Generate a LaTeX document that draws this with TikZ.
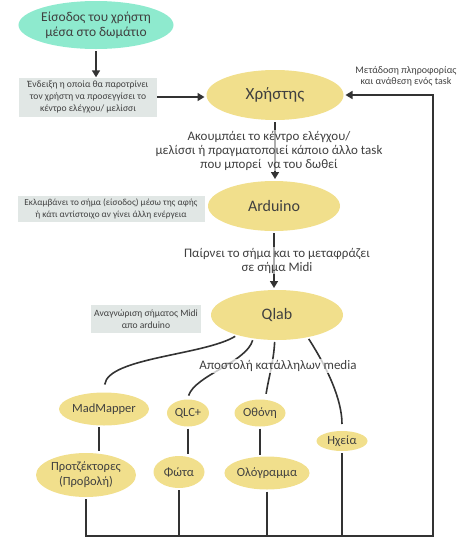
\documentclass[tikz,border=0pt]{standalone}
\usepackage{fontspec}
\setmainfont{Carlito}
\usetikzlibrary{shapes.geometric, arrows.meta}

\definecolor{mint}{RGB}{142,234,206}
\definecolor{sand}{RGB}{241,223,140}
\definecolor{fog}{RGB}{225,231,229}
\definecolor{ink}{RGB}{64,64,64}
\definecolor{wirecol}{RGB}{51,51,51}

\tikzset{
	blob/.style = {ellipse, fill=sand, text=ink, inner sep=0pt, outer sep=2pt, align=center},
	note/.style = {fill=fog, text=ink, align=center, inner sep=1pt, font=\fontsize{9.6}{12}\selectfont},
	say/.style = {text=ink, align=center, fill=white, fill opacity=0.6, text opacity=1, inner sep=1pt, font=\fontsize{13}{14}\selectfont},
	wire/.style = {draw=wirecol, line width=1.6pt},
	flow/.style = {wire, -{Triangle[length=7pt,width=8pt]}},
}

\begin{document}
\begin{tikzpicture}[x=1pt, y=-1pt]
			\useasboundingbox (0,0) rectangle (467,539);

			\begin{scope}
				\node [blob, fill=mint, minimum width=144pt, minimum height=48pt, font=\fontsize{13.5}{15}\selectfont] (entry) at (96,25) {Είσοδος του χρήστη\\μέσα στο δωμάτιο};
				\node [note, minimum width=138pt, minimum height=39pt] (hint) at (88,97) {Ένδειξη η οποία θα παροτρίνει\\τον χρήστη να προσεγγίσει το\\κέντρο ελέγχου/ μελίσσι};
				\node [blob, minimum width=137pt, minimum height=50pt, font=\fontsize{17}{20}\selectfont] (user) at (275,95) {Χρήστης};
				\node [blob, minimum width=132pt, minimum height=50pt, font=\fontsize{16}{20}\selectfont] (arduino) at (274,206) {Arduino};
				\node [note, minimum width=187pt, minimum height=26pt, font=\fontsize{9.2}{12}\selectfont] (touch) at (111,209) {Εκλαμβάνει το σήμα (είσοδος) μέσω της αφής\\ή κάτι αντίστοιχο αν γίνει άλλη ενέργεια};
				\node [blob, minimum width=132pt, minimum height=50pt, font=\fontsize{16}{20}\selectfont] (qlab) at (277,315) {Qlab};
				\node [note, minimum width=110pt, minimum height=28pt] (midi) at (146,319) {Αναγνώριση σήματος Midi\\απο arduino};
				\node [text=ink, align=center, font=\fontsize{10}{11}\selectfont] (task) at (406,76) {Μετάδοση πληροφορίας\\και ανάθεση ενός task};
			\end{scope}

			\begin{scope}[font=\fontsize{12.5}{15}\selectfont]
				\node [blob, minimum width=82pt, minimum height=33pt] (madmapper) at (104,409) {MadMapper};
				\node [blob, minimum width=42pt, minimum height=27pt] (qlc) at (188,413) {QLC+};
				\node [blob, minimum width=51pt, minimum height=27pt] (screen) at (260,413) {Οθόνη};
				\node [blob, minimum width=51pt, minimum height=20pt] (speakers) at (342,441) {Ηχεία};
				\node [blob, minimum width=100pt, minimum height=44pt] (projectors) at (86,475) {Προτζέκτορες\\(Προβολή)};
				\node [blob, minimum width=51pt, minimum height=32pt] (lights) at (179,472) {Φώτα};
				\node [blob, minimum width=81pt, minimum height=33pt] (hologram) at (267,473) {Ολόγραμμα};
			\end{scope}

			\coordinate (se) at (433,536);

			\begin{scope}[flow]
				\draw (entry.south) -- (entry.south |- hint.north);
				\draw (hint.east) -- (hint.east -| user.west);
				\draw (user.south) -- node [say, xshift=-6pt] {Ακουμπάει το κέντρο ελέγχου/\\μελίσσι ή πραγματοποιεί κάποιο άλλο task\\που μπορεί \ να του δωθεί} (user.south |- arduino.north);
				\draw (arduino.south) -- node [say, xshift=3pt] {Παίρνει το σήμα και το μεταφράζει\\σε σήμα Midi} (arduino.south |- qlab.north);
				\draw (projectors.south) |- (se) -- (se |- user.east) -- (user.east);
			\end{scope}

			\begin{scope}[wire]
				\draw [shorten >=6pt] (qlab.207) .. controls +(-31,19) and +(4,-33) .. (madmapper.north);
				\draw [shorten >=2pt] (qlab.226) .. controls +(-6,22) and +(7,-22) .. (qlc.north);
				\draw [shorten >=4pt] (qlab.265) .. controls +(-1,20) and +(3,-20) .. (screen.70);
				\draw [shorten >=5pt] (qlab.323) .. controls +(18,28) and +(0,-30) .. (speakers.north);
				\node [say, font=\fontsize{13}{15}\selectfont, fill opacity=0.75] (media) at (278,366) {Αποστολή κατάλληλων media};

				\draw (madmapper.255) -- (madmapper.255 |- projectors.north);
				\draw (qlc.south) -- (qlc.south |- lights.north);
				\draw (screen.south) -- (screen.south |- hologram.north);

				\draw (lights.south) -- (lights.south |- se);
				\draw (hologram.south) -- (hologram.south |- se);
				\draw (speakers.south) -- (speakers.south |- se);
			\end{scope}
		\end{tikzpicture}
\end{document}
